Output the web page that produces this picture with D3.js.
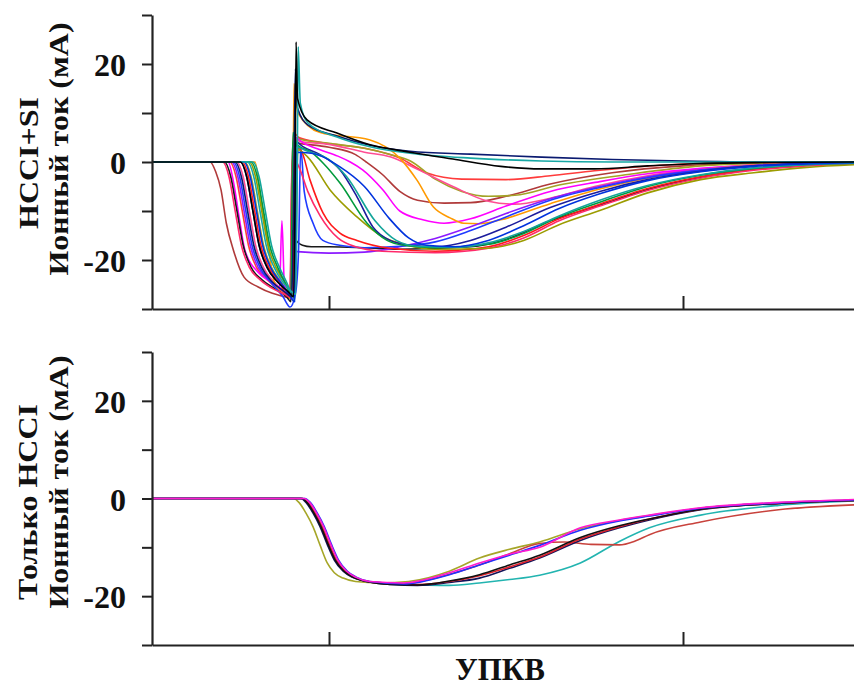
<!DOCTYPE html>
<html>
<head>
<meta charset="utf-8">
<script src="https://cdn.jsdelivr.net/npm/d3@7/dist/d3.min.js"></script>
<style>
  html, body { margin: 0; padding: 0; background: #fff; }
  svg { display: block; }
  .lbl { font-family: "Liberation Serif", "Times New Roman", serif; font-weight: bold; fill: #111; }
</style>
</head>
<body>
<svg id="chart" width="854" height="688"></svg>
<script>
// Crank angle (deg) vs ion current (mA), one array per engine cycle.
const xTicks = [0, 20];
const yTicks = [-30, -20, -10, 0, 10, 20, 30];
const yTickLabels = [20, 0, -20];
const topTitle = ["HCCI+SI", "Ионный ток (мА)"];
const bottomTitle = ["Только HCCI", "Ионный ток (мА)"];
const xTitle = "УПКВ";

// ---- HCCI+SI cycles ----
const siBrown = [[-10,0],[-6.72,0],[-6.4,-2],[-6.1,-5.7],[-5.8,-12.5],[-5.4,-18],[-4.8,-23.5],[-4.0,-25.5],[-3.2,-26.8],[-2.5,-27.5],[-2.2,-27.8],[-2.12,-8],[-2.05,4],[-1.7,3.8],[0,3],[1.5,1.5],[2.1,0],[3,-2.5],[4,-6],[5,-7.8],[6.5,-8.4],[8,-8.3],[10,-7],[12.5,-4.5],[16,-2.2],[20,-0.8],[25,-0.2],[30,0]];
const siRedLight = [[-10,0],[-5.6,0],[-5.25,-3],[-4.9,-10],[-4.55,-17],[-4.1,-21.5],[-3.5,-24],[-2.8,-26],[-2.2,-27],[-2.1,-10],[-2.0,6],[-1.7,5],[-0.5,4],[2,2.8],[4,0.8],[5.5,-2.2],[7.5,-3.5],[10,-3.6],[12.5,-2.8],[15,-1.8],[19,-0.6],[23,-0.1],[30,0]];
const siOlive = [[-10,0],[-4.75,0],[-4.4,-3],[-4.05,-10],[-3.7,-17],[-3.25,-21.5],[-2.7,-24.5],[-2.2,-26.8],[-2.0,-27],[-1.92,-8],[-1.86,5],[-1.6,4.6],[0,3.8],[2,2.8],[3.5,1.5],[4.6,0.2],[6,-3.5],[7.5,-6],[9,-7],[10.5,-6.8],[13,-4.7],[17,-2.5],[21,-0.8],[25,-0.2],[30,0]];
const siPink = [[-10,0],[-5.2,0],[-4.85,-3],[-4.5,-10],[-4.15,-17],[-3.7,-21.5],[-3.1,-24.5],[-2.5,-26.5],[-2.15,-27.5],[-2.05,-8],[-1.97,4.5],[-1.6,4.2],[0,3.6],[2,2],[3.5,1],[5,-1.5],[7,-5],[9,-8],[10.5,-8.6],[12.5,-7.4],[15,-5],[18,-2.8],[21,-1.4],[24,-0.6],[30,0]];
const siMagenta = [[-10,0],[-5.7,0],[-5.4,-4],[-5.08,-11.2],[-4.75,-18],[-3.95,-22.7],[-3.22,-24.7],[-2.8,-26],[-2.66,-12],[-2.52,-25],[-2.2,-27.5],[-2.0,-28],[-1.93,-8],[-1.88,5],[-1.5,4],[-0.5,2.5],[0.5,1.2],[1.2,0],[1.9,-1.6],[3.05,-5.7],[4,-10],[5.3,-11.8],[6.5,-12.5],[8,-11.6],[10,-9],[12.5,-6],[15.3,-4],[18,-2.4],[21,-1.3],[24,-0.6],[30,0]];
const siOrange = [[-10,0],[-4.18,0],[-3.84,-7.8],[-3.5,-15.3],[-3.16,-23.5],[-2.88,-26],[-2.4,-27.2],[-2.1,-28],[-2.03,-10],[-1.98,16],[-1.75,10],[-0.5,6],[2.32,4.5],[4.0,0.8],[4.97,-3.7],[5.9,-9.2],[6.84,-11.4],[7.6,-12.5],[8.5,-12.6],[9.7,-11.8],[12.5,-8.5],[15.3,-5.5],[18.1,-3.2],[21,-1.6],[24,-0.6],[30,0]];
const siBlack2 = [[-10,0],[-5.9,0],[-5.55,-3],[-5.2,-10],[-4.85,-17],[-4.4,-21.5],[-3.8,-24],[-3.0,-26],[-2.4,-27.5],[-2.15,-28.5],[-2.08,-14],[-1.95,-15.5],[-1.5,-17],[-1,-17.3],[0,-17.3],[2,-17.5],[4,-17.8],[8,-17.3],[10,-15.8],[12.5,-12],[15.3,-8.8],[18,-5.6],[21,-3.1],[24,-1.5],[27,-0.6],[30,-0.2]];
const siPurple = [[-10,0],[-5.5,0],[-5.15,-3],[-4.8,-10],[-4.45,-17],[-4.0,-21.5],[-3.4,-24],[-2.7,-26],[-2.2,-27.5],[-2.08,-28],[-2.0,-17],[-1.8,-18.3],[0,-18.6],[2,-18.4],[4,-17.3],[6,-15.6],[8,-13.2],[10,-10.5],[12.5,-7.5],[15.3,-5],[18,-3],[21,-1.6],[24,-0.7],[30,-0.1]];
const siBlueEarly = [[-10,0],[-5.4,0],[-5.05,-3],[-4.7,-10],[-4.35,-17],[-3.9,-21.5],[-3.3,-24.5],[-2.6,-27.5],[-2.2,-29.6],[-1.9,-27],[-1.72,-18],[-1.6,3],[-1.4,-6],[-0.9,-12.5],[-0.35,-16],[0.6,-17],[2,-17.5],[4,-17.2],[6,-16.3],[8,-14],[10,-11.2],[12.5,-7.8],[15.3,-5.2],[18,-3.2],[21,-1.7],[24,-0.8],[30,-0.1]];
const siRedEarly = [[-10,0],[-4.9,0],[-4.55,-3],[-4.2,-10],[-3.85,-17],[-3.4,-21.5],[-2.8,-24.5],[-2.3,-27.5],[-2.05,-27],[-1.98,-5],[-1.92,3],[-1.6,2.5],[-1.07,-3.7],[-0.34,-10.4],[0.62,-14.5],[1.58,-16],[3.45,-17.6],[6,-18.2],[9,-17.3],[11,-15],[13,-11.6],[15.3,-8.6],[18,-5.4],[21,-3],[24,-1.5],[27,-0.6],[30,-0.2]];
const siRose = [[-10,0],[-6.0,0],[-5.65,-3],[-5.3,-10],[-4.95,-17],[-4.5,-21.5],[-3.9,-24],[-3.1,-26],[-2.5,-27],[-2.2,-27.5],[-2.12,-5],[-2.05,1],[-1.7,-1],[-1.2,-6],[-0.5,-11],[0.5,-15.5],[1.5,-17.3],[3,-18.2],[6,-18.5],[9,-17.6],[11,-15.5],[13,-12],[15.3,-9],[18,-5.8],[21,-3.3],[24,-1.7],[27,-0.8],[30,-0.3]];
const siOliveEarly = [[-10,0],[-4.5,0],[-4.15,-3],[-3.8,-10],[-3.45,-17],[-3.0,-21.5],[-2.5,-24.5],[-2.1,-26.5],[-1.9,-27],[-1.82,-5],[-1.76,2.5],[-1.2,1],[0.06,-5.7],[1.58,-11.2],[3.05,-15.3],[4.4,-17],[6,-17.8],[9,-17.6],[11,-16],[13,-12.8],[15.3,-9.9],[18,-6.3],[21,-3.6],[24,-2.2],[27,-1.1],[30,-0.5]];
const siNavyEarly = [[-10,0],[-5.0,0],[-4.65,-3],[-4.3,-10],[-3.95,-17],[-3.5,-21.5],[-2.9,-24.5],[-2.3,-26.5],[-1.95,-27.5],[-1.88,-5],[-1.82,4],[-1.5,3.2],[-0.5,1.5],[0.62,-1.6],[1.58,-7.1],[2.49,-13.3],[3.45,-16],[4.6,-17],[6,-17.3],[8,-16],[10,-13.3],[12.5,-9.3],[15.3,-6],[18,-3.6],[21,-1.9],[24,-0.8],[30,-0.1]];
const siGreen = [[-10,0],[-4.4,0],[-4.05,-3],[-3.7,-10],[-3.35,-17],[-2.9,-21.5],[-2.5,-24.5],[-2.25,-26.5],[-2.15,-27],[-2.08,-5],[-2.03,6],[-1.8,3.5],[-1,2],[-0.34,-0.2],[0.62,-4.3],[2.15,-12.5],[3.28,-16],[4.2,-17],[6,-17.5],[9,-16.8],[11,-14.6],[13,-11.2],[15.3,-8.2],[18,-5],[21,-2.7],[24,-1.3],[27,-0.5],[30,-0.2]];
const siTeal2 = [[-10,0],[-4.3,0],[-3.95,-3],[-3.6,-10],[-3.25,-17],[-2.8,-21.5],[-2.4,-24.5],[-2.1,-27],[-1.95,-28],[-1.9,-5],[-1.85,3],[-1.2,2.2],[0,0.5],[1,-3],[2.6,-12],[3.8,-16],[5,-17.2],[7,-17.4],[9,-16.5],[11,-14.2],[13,-11],[15.3,-7.8],[18,-4.8],[21,-2.6],[24,-1.2],[30,-0.2]];
const siBlue = [[-10,0],[-4.8,0],[-4.45,-3],[-4.1,-10],[-3.75,-17],[-3.3,-21.5],[-2.75,-24.5],[-2.25,-27],[-1.95,-28.5],[-1.9,-5],[-1.85,2],[-1,1.8],[0.62,-1],[2,-5],[3.4,-11.5],[4.5,-15.5],[5.5,-17],[7,-17.3],[9,-16],[11,-13],[13,-9.5],[15.3,-6.5],[18,-3.8],[21,-2],[24,-0.9],[30,-0.1]];
const siNavy = [[-10,0],[-5.3,0],[-4.95,-3],[-4.6,-10],[-4.25,-17],[-3.8,-21.5],[-3.2,-24.5],[-2.5,-26.5],[-2.1,-27.5],[-2.0,-8],[-1.9,19],[-1.78,11],[-1.2,7.6],[0.45,5.3],[2.32,3.4],[4.58,2.2],[8,1.6],[12,1.0],[16,0.5],[20,0.2],[25,0],[30,0]];
const siTeal = [[-10,0],[-4.6,0],[-4.25,-3],[-3.9,-10],[-3.55,-17],[-3.1,-21.5],[-2.6,-24.5],[-2.1,-26.5],[-1.88,-27],[-1.8,-5],[-1.74,23.5],[-1.62,12],[-1.2,8],[0.45,5.1],[2.32,3.1],[4.58,1.8],[8,0.8],[12,0.2],[16,0],[30,0]];
const siBlack = [[-10,0],[-5.0,0],[-4.65,-3],[-4.3,-10],[-3.95,-17],[-3.5,-21.5],[-2.9,-24.5],[-2.3,-26.5],[-2.0,-27.5],[-1.92,-8],[-1.86,24.5],[-1.78,13],[-1.24,8.6],[0.45,5.9],[2.32,3.5],[4.58,2.0],[7,0.6],[9.7,-0.9],[12,-1.4],[15,-1.4],[18,-0.8],[21,-0.3],[25,-0.1],[30,0]];

const siCycles = [siBrown, siRedLight, siOlive, siPink, siMagenta, siOrange, siBlack2, siPurple,
  siBlueEarly, siRedEarly, siRose, siOliveEarly, siNavyEarly, siGreen, siTeal2, siBlue, siNavy, siTeal, siBlack];
const siColors = ["#b03a3a", "#ff3b3b", "#a3a326", "#ff4d94", "#ff00ff", "#ff9a00", "#1a1a1a", "#8c1aff",
  "#1f3bff", "#ff1a1a", "#ff2a6a", "#9c9c00", "#1c1c9c", "#009a3c", "#13a59a", "#0033dd", "#0a1a70", "#17a8a4", "#000000"];

// ---- HCCI-only cycles ----
const hcOlive = [[-10,0],[-2.0,0],[-1.7,-0.8],[-1.3,-3],[-0.9,-5.8],[-0.5,-9.6],[-0.1,-13.2],[0.3,-15.2],[0.8,-16.3],[1.5,-17],[2.9,-17.3],[4.5,-17],[6.8,-14.9],[8.5,-12.2],[10.2,-10.4],[11.9,-8.9],[14.2,-6.2],[16.4,-4.5],[18.1,-3.5],[21,-2],[25.4,-0.9],[29.7,-0.3]];
const hcTeal = [[-10,0],[-1.5,0],[-1.2,-0.8],[-0.8,-3],[-0.4,-5.8],[0,-9.4],[0.4,-12.6],[0.9,-14.9],[1.4,-16.1],[2.2,-17],[3.5,-17.5],[4.2,-17.6],[6.8,-17.8],[8.5,-17.3],[10.2,-16.6],[11.9,-15.7],[14.2,-13.2],[16.4,-8.8],[18.1,-6],[21,-3.4],[25.4,-1.4],[29.7,-0.5]];
const hcBrown = [[-10,0],[-1.5,0],[-1.2,-0.8],[-0.8,-3],[-0.4,-5.8],[0,-9.4],[0.4,-12.6],[0.9,-14.9],[1.4,-16.1],[2.2,-17],[4.2,-17.4],[6.8,-15.5],[8.5,-13.6],[10.2,-11.3],[11.9,-9.2],[13.3,-8.9],[14.8,-9.4],[16.4,-9.5],[17.3,-8.7],[18.1,-7.4],[21,-4.8],[25.4,-2.3],[29.7,-1.3]];
const hcNavy = [[-10,0],[-1.6,0],[-1.3,-0.8],[-0.9,-3],[-0.5,-5.8],[-0.1,-9.4],[0.3,-12.6],[0.8,-14.9],[1.3,-16.1],[2.1,-17],[3.5,-17.6],[5,-17.8],[6.8,-17.2],[8.5,-16.3],[10.2,-14.3],[11.9,-12.2],[14.2,-8.6],[16.4,-6],[18.1,-4.4],[21,-2.3],[25.4,-1],[29.7,-0.4]];
const hcRed = [[-10,0],[-1.5,0],[-1.2,-0.8],[-0.8,-3],[-0.4,-5.8],[0,-9.4],[0.4,-12.6],[0.9,-14.9],[1.4,-16.1],[2.2,-17],[3.5,-17.5],[5,-17.6],[6.8,-17],[8.5,-15.8],[10.2,-14],[11.9,-12],[14.2,-8.3],[16.4,-5.8],[18.1,-4.2],[21,-2.2],[25.4,-1],[29.7,-0.4]];
const hcBlack = [[-10,0],[-1.55,0],[-1.25,-0.8],[-0.85,-3],[-0.45,-5.8],[-0.05,-9.4],[0.35,-12.6],[0.85,-14.9],[1.35,-16.1],[2.15,-17],[3.5,-17.6],[5,-17.7],[6.8,-16.9],[8.5,-15.6],[10.2,-13.6],[11.9,-11.6],[14.2,-8],[16.4,-5.6],[18.1,-4.2],[21,-2.2],[25.4,-1],[29.7,-0.4]];
const hcBlue = [[-10,0],[-1.36,0],[-1.06,-0.8],[-0.66,-3],[-0.26,-5.8],[0.14,-9.4],[0.54,-12.6],[1.04,-14.9],[1.54,-16.1],[2.3,-17],[4.2,-17.5],[6.8,-15.6],[8.5,-13.6],[10.2,-11.6],[11.9,-9.6],[14.2,-6.5],[16.4,-4.6],[18.1,-3.6],[21,-2],[25.4,-0.9],[29.7,-0.3]];
const hcMagenta = [[-10,0],[-1.4,0],[-1.1,-0.8],[-0.7,-3],[-0.3,-5.8],[0.1,-9.4],[0.5,-12.6],[1.0,-14.9],[1.5,-16.1],[2.3,-17],[4.2,-17.3],[6.8,-15.2],[8.5,-13.2],[10.2,-11.4],[11.9,-10],[14.2,-6],[16.4,-4.4],[18.1,-3.4],[21,-1.9],[25.4,-0.8],[29.7,-0.2]];

const hcCycles = [hcOlive, hcTeal, hcBrown, hcNavy, hcRed, hcBlack, hcBlue, hcMagenta];
const hcColors = ["#a6a628", "#22b4b0", "#c8423c", "#14145a", "#e0202a", "#111111", "#2230ff", "#ff1ad0"];

// ---- layout ----
const svg = d3.select("#chart");
const x = d3.scaleLinear().domain([-10, 30]).range([152, 860]);
const panels = [
  { cycles: siCycles, colors: siColors, y: d3.scaleLinear().domain([-30, 30]).range([309, 15]),
    title: topTitle, titleX: [38, 68], titleY: [163, 149] },
  { cycles: hcCycles, colors: hcColors, y: d3.scaleLinear().domain([-30, 30]).range([645, 352]),
    title: bottomTitle, titleX: [37, 68], titleY: [502, 482] }
];

panels.forEach(p => {
  const g = svg.append("g");
  const line = d3.line().x(d => x(d[0])).y(d => p.y(d[1])).curve(d3.curveMonotoneX);

  g.append("g").selectAll("path")
    .data(p.cycles)
    .join("path")
    .attr("d", line)
    .attr("fill", "none")
    .attr("stroke", (d, i) => p.colors[i])
    .attr("stroke-width", 1.6)
    .attr("stroke-linejoin", "round");

  // left axis
  const yAxis = d3.axisLeft(p.y)
    .tickValues(yTicks)
    .tickSize(10)
    .tickSizeOuter(0)
    .tickPadding(16)
    .tickFormat(d => yTickLabels.includes(d) ? String(d) : "");
  const ya = g.append("g").attr("transform", `translate(${x(-10)},0)`).call(yAxis);
  ya.select(".domain").attr("stroke", "#222").attr("stroke-width", 2.2);
  ya.selectAll(".tick line").attr("stroke", "#222").attr("stroke-width", 2);
  ya.selectAll(".tick text")
    .attr("class", "lbl")
    .attr("font-size", 32)
    .attr("dy", "0.36em");

  // bottom axis
  const xAxis = d3.axisBottom(x).tickValues(xTicks).tickSize(-13).tickSizeOuter(0).tickFormat("");
  const xa = g.append("g").attr("transform", `translate(0,${p.y(-30)})`).call(xAxis);
  xa.select(".domain").attr("stroke", "#222").attr("stroke-width", 2.2);
  xa.selectAll(".tick line").attr("stroke", "#222").attr("stroke-width", 2);

  // rotated two-line title
  p.title.forEach((t, i) => {
    svg.append("text")
      .attr("class", "lbl")
      .attr("font-size", 32)
      .attr("text-anchor", "middle")
      .attr("transform", `translate(${p.titleX[i]},${p.titleY[i]}) rotate(-90) scale(1,0.85)`)
      .text(t);
  });
});

svg.append("text")
  .attr("class", "lbl")
  .attr("font-size", 31)
  .attr("text-anchor", "middle")
  .attr("x", 500)
  .attr("y", 680)
  .text(xTitle);
</script>
</body>
</html>
